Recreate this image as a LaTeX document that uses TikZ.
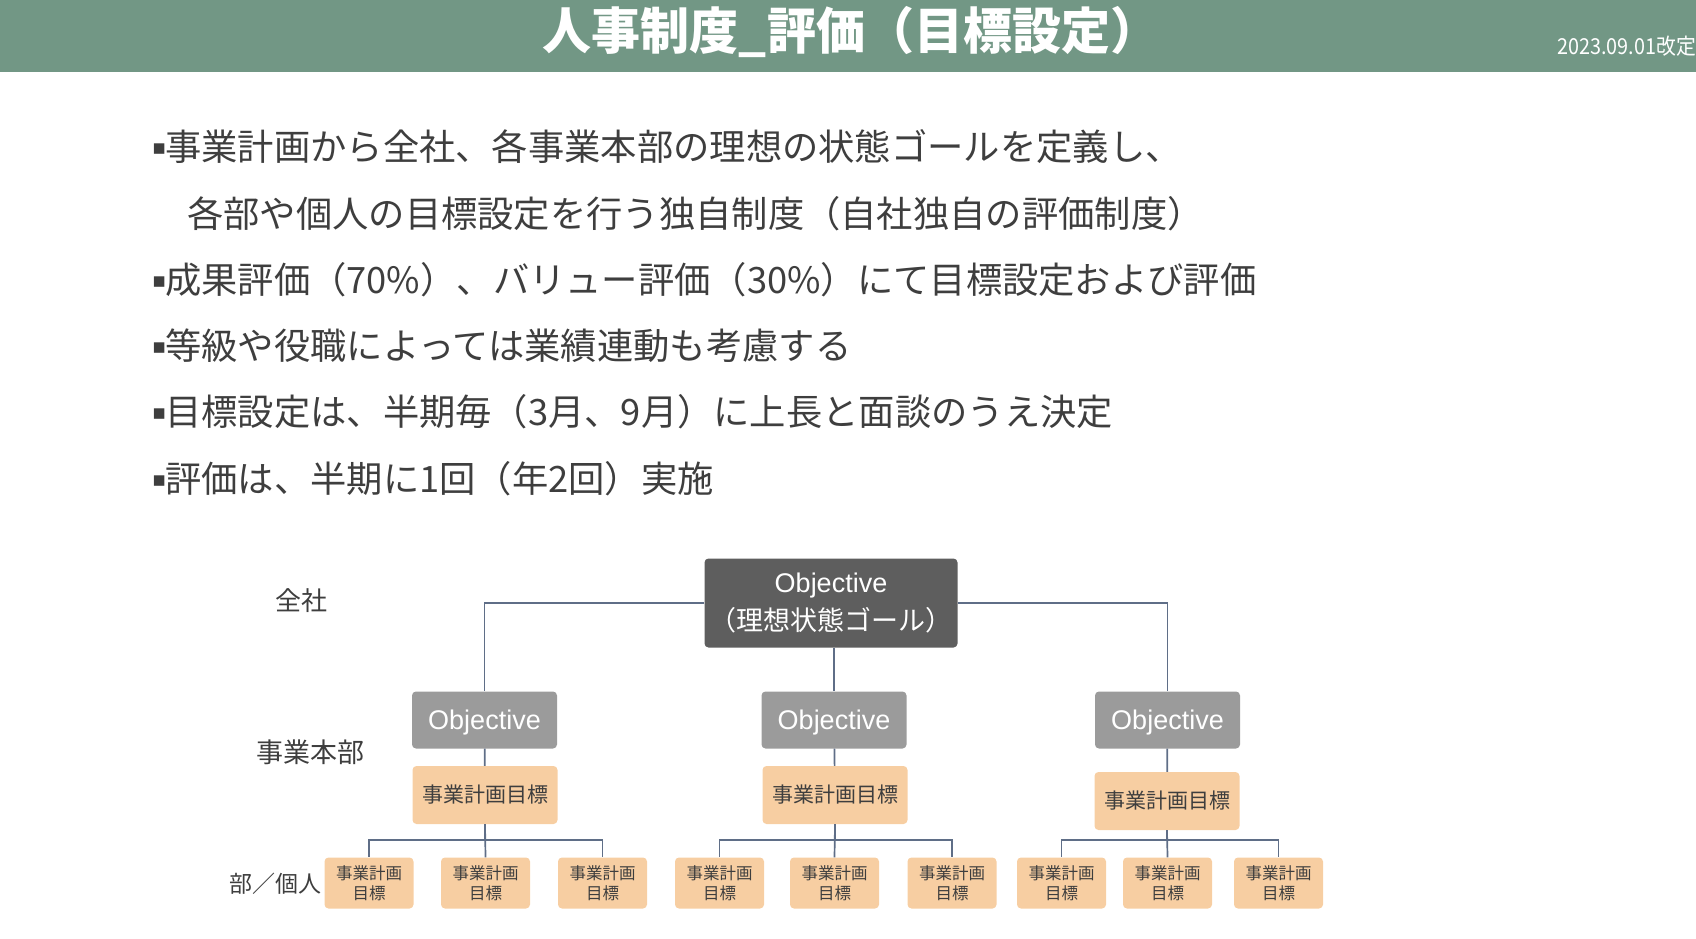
\documentclass[tikz,border=0pt]{standalone}
\usepackage{fontspec}
\usepackage{graphicx}
\setmainfont{Noto Sans CJK JP}
\newfontfamily\latinfont{Liberation Sans}
\newfontfamily\bltfont{DejaVu Sans}
\definecolor{band}{RGB}{114,151,133}
\definecolor{darkbox}{RGB}{94,94,94}
\definecolor{midbox}{RGB}{155,155,155}
\definecolor{peach}{RGB}{247,206,162}
\definecolor{wire}{RGB}{95,110,135}
\definecolor{ink}{RGB}{62,62,62}
\newcommand{\pxsize}[1]{\fontsize{#1}{#1}\selectfont}
\newcommand{\blt}{\makebox[13pt][l]{\raisebox{6pt}{\bltfont\pxsize{21}▪}}}
\tikzset{box/.style={rounded corners=4pt, inner sep=0pt, align=center}}
\tikzset{goal-box/.style={box, fill=darkbox, text=white, font=\fontsize{27}{38}\selectfont, minimum width=253pt, minimum height=89pt}}
\tikzset{obj-box/.style={box, fill=midbox, text=white, font=\latinfont\pxsize{27}, text height=19.5pt, text depth=0pt, minimum width=145pt, minimum height=57pt}}
\tikzset{plan-box/.style={box, fill=peach, text=ink, font=\pxsize{21}, minimum width=145pt, minimum height=58pt}}
\tikzset{item-box/.style={box, fill=peach, text=ink, font=\fontsize{16.5}{20}\selectfont, minimum width=89pt, minimum height=51pt}}
\tikzset{wire/.style={draw=wire, line width=1.7pt}}
\tikzset{level/.style={text=ink, inner sep=0pt}}
\tikzset{point/.style={anchor=west, text=ink, font=\pxsize{36.3}, inner sep=0pt}}

\begin{document}
\begin{tikzpicture}[x=1pt, y=-1pt]
      \useasboundingbox (0,0) rectangle (1696,938);
      \fill[band] (0,0) rectangle (1696,72);

      \node[text=white, font=\pxsize{50}\bfseries] (title) at (851, 32) {\scalebox{0.98}[1]{人事制度\_評価（目標設定）}};
      \node[text=white, font=\pxsize{22}, anchor=east, inner sep=0pt] (date) at (1696, 46) {\scalebox{0.9}[1]{2023.09.01改定}};

      \node[point] (p1) at (152, 147) {\blt 事業計画から全社、各事業本部の理想の状態ゴールを定義し、};
      \node[point] (p1b) at (187, 214) {各部や個人の目標設定を行う独自制度（自社独自の評価制度）};
      \node[point] (p2) at (152, 280) {\blt 成果評価（70\%）、バリュー評価（30\%）にて目標設定および評価};
      \node[point] (p3) at (152, 346) {\blt 等級や役職によっては業績連動も考慮する};
      \node[point] (p4) at (152, 412) {\blt 目標設定は、半期毎（3月、9月）に上長と面談のうえ決定};
      \node[point] (p5) at (152, 479) {\blt 評価は、半期に1回（年2回）実施};

      \node[level, font=\pxsize{26}] (zensha) at (301, 601) {全社};
      \node[level, font=\pxsize{27}] (honbu) at (310, 752) {事業本部};
      \node[level, font=\pxsize{23}] (kojin) at (275, 884) {部／個人};

      \node[goal-box] (goal) at (831, 603) {{\latinfont Objective}\\（理想状態ゴール）};

      \node[obj-box] (obj1) at (484.5, 720) {Objective};
      \node[obj-box] (obj2) at (834, 720) {Objective};
      \node[obj-box] (obj3) at (1167.5, 720) {Objective};

      \node[plan-box] (plan1) at (485, 795) {事業計画目標};
      \node[plan-box] (plan2) at (835, 795) {事業計画目標};
      \node[plan-box] (plan3) at (1167, 801) {事業計画目標};

      \node[item-box] (k11) at (369, 883) {事業計画\\目標};
      \node[item-box] (k12) at (485.5, 883) {事業計画\\目標};
      \node[item-box] (k13) at (602.5, 883) {事業計画\\目標};
      \node[item-box] (k21) at (719.5, 883) {事業計画\\目標};
      \node[item-box] (k22) at (834.5, 883) {事業計画\\目標};
      \node[item-box] (k23) at (952, 883) {事業計画\\目標};
      \node[item-box] (k31) at (1061.5, 883) {事業計画\\目標};
      \node[item-box] (k32) at (1167.5, 883) {事業計画\\目標};
      \node[item-box] (k33) at (1278.5, 883) {事業計画\\目標};

      \coordinate (bar) at (0, 840);

      \draw[wire] (goal.west) -| (obj1.north);
      \draw[wire] (goal.east) -| (obj3.north);
      \draw[wire] (goal.south -| obj2.north) -- (obj2.north);

      \draw[wire] (obj1) -- (plan1);
      \draw[wire] (obj2) -- (plan2);
      \draw[wire] (obj3) -- (plan3);

      \draw[wire] (plan1.south) -- (plan1.south |- bar) -| (k11.north);
      \draw[wire] (plan1.south) -- (k12.north);
      \draw[wire] (plan1.south |- bar) -| (k13.north);
      \draw[wire] (plan2.south) -- (plan2.south |- bar) -| (k21.north);
      \draw[wire] (plan2.south) -- (k22.north);
      \draw[wire] (plan2.south |- bar) -| (k23.north);
      \draw[wire] (plan3.south) -- (plan3.south |- bar) -| (k31.north);
      \draw[wire] (plan3.south) -- (k32.north);
      \draw[wire] (plan3.south |- bar) -| (k33.north);
    \end{tikzpicture}
\end{document}
